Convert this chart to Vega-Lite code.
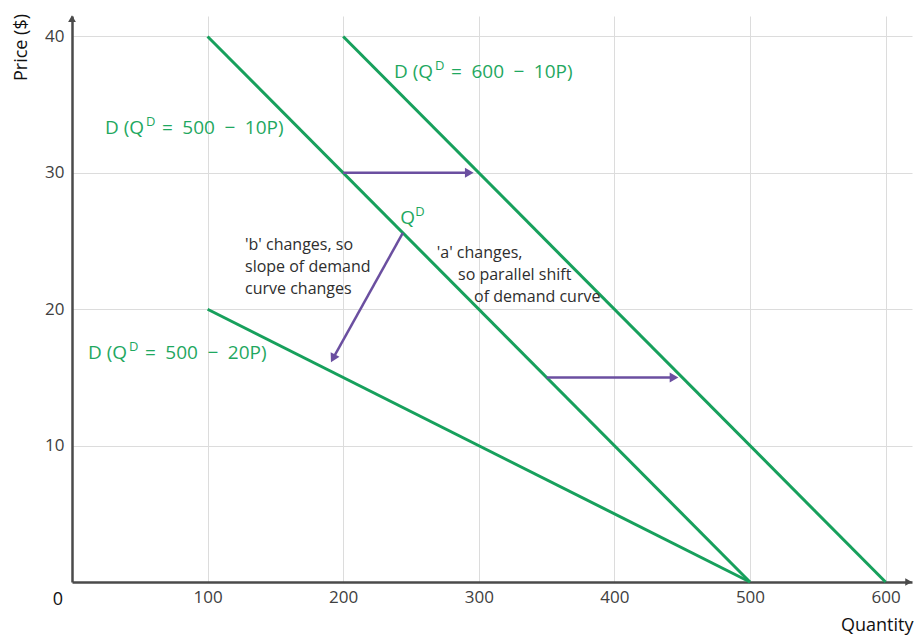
{
  "$schema": "https://vega.github.io/schema/vega-lite/v6.json",
  "width": 840,
  "height": 566,
  "autosize": {"type": "none"},
  "padding": {"left": 72, "top": 16, "right": 3, "bottom": 53},
  "background": "white",
  "config": {
    "view": {"stroke": null},
    "font": "Open Sans",
    "text": {"font": "Open Sans"}
  },
  "datasets": {
    "curves": [
      {"curve": "D1", "q": 100, "p": 40},
      {"curve": "D1", "q": 500, "p": 0},
      {"curve": "D2", "q": 200, "p": 40},
      {"curve": "D2", "q": 600, "p": 0},
      {"curve": "D3", "q": 100, "p": 20},
      {"curve": "D3", "q": 500, "p": 0}
    ],
    "arrows": [
      {"id": "a1", "q": 200, "p": 30},
      {"id": "a1", "q": 294, "p": 30},
      {"id": "a2", "q": 350, "p": 15},
      {"id": "a2", "q": 445, "p": 15},
      {"id": "b", "q": 244, "p": 25.6},
      {"id": "b", "q": 192, "p": 16.3}
    ],
    "heads": [
      {"q": 293, "p": 30, "angle": 90},
      {"q": 444, "p": 15, "angle": 90},
      {"q": 192.5, "p": 16.4, "angle": 208}
    ],
    "greenLabels": [
      {"q": 24.3, "p": 33.3, "pre": "D (Q", "sup": "D", "rest": "=\u2002500\u2002−\u200210P)"},
      {"q": 237.5, "p": 37.4, "pre": "D (Q", "sup": "D", "rest": "=\u2002600\u2002−\u200210P)"},
      {"q": 11.8, "p": 16.8, "pre": "D (Q", "sup": "D", "rest": "=\u2002500\u2002−\u200220P)"}
    ],
    "qd": [
      {"q": 242, "p": 26.7, "pre": "Q", "sup": "D"}
    ],
    "notes": [
      {"q": 127.6, "p": 24.7, "label": "'b' changes, so"},
      {"q": 127.6, "p": 23.1, "label": "slope of demand"},
      {"q": 127.6, "p": 21.5, "label": "curve changes"},
      {"q": 269, "p": 24.1, "label": "'a' changes,"},
      {"q": 284.7, "p": 22.5, "label": "so parallel shift"},
      {"q": 296.5, "p": 20.9, "label": "of demand curve"}
    ],
    "axisHeads": [
      {"q": 617, "p": 0, "angle": 90},
      {"q": 0, "p": 41.3, "angle": 0}
    ],
    "origin": [{"q": 0, "p": 0, "label": "0"}]
  },
  "layer": [
    {
      "data": {"name": "curves"},
      "mark": {"type": "line", "color": "#17a05c", "strokeWidth": 3},
      "encoding": {
        "x": {
          "field": "q", "type": "quantitative",
          "scale": {"domain": [0, 619.5], "nice": false, "zero": true},
          "axis": {
            "values": [100, 200, 300, 400, 500, 600],
            "gridValues": [50, 100, 150, 200, 250, 300, 350, 400, 450, 500, 550, 600],
            "grid": true, "gridColor": "#dcdcdc", "gridWidth": 1,
            "ticks": false,
            "domainColor": "#4a4a4a", "domainWidth": 2.5,
            "labelFont": "Open Sans", "labelFontSize": 17, "labelColor": "#404040", "labelPadding": 7,
            "title": "Quantity", "titleFont": "Open Sans", "titleFontSize": 18, "titleFontWeight": "normal",
            "titleColor": "#111111", "titleAnchor": "end", "titleAlign": "right",
            "titleX": 841, "titleY": 48, "titleBaseline": "alphabetic"
          }
        },
        "y": {
          "field": "p", "type": "quantitative",
          "scale": {"domain": [0, 41.5], "nice": false, "zero": true},
          "axis": {
            "values": [10, 20, 30, 40],
            "gridValues": [5, 10, 15, 20, 25, 30, 35, 40],
            "grid": true, "gridColor": "#dcdcdc", "gridWidth": 1,
            "ticks": false,
            "domainColor": "#4a4a4a", "domainWidth": 2.5,
            "labelFont": "Open Sans", "labelFontSize": 17, "labelColor": "#404040", "labelPadding": 8,
            "title": "Price ($)", "titleFont": "Open Sans", "titleFontSize": 18, "titleFontWeight": "normal",
            "titleColor": "#111111", "titleAngle": -90, "titleX": -51, "titleY": 31,
            "titleAlign": "center", "titleBaseline": "middle"
          }
        },
        "detail": {"field": "curve"}
      }
    },
    {
      "data": {"name": "arrows"},
      "mark": {"type": "line", "color": "#6b4fa0", "strokeWidth": 2.5},
      "encoding": {
        "x": {"field": "q", "type": "quantitative"},
        "y": {"field": "p", "type": "quantitative"},
        "detail": {"field": "id"}
      }
    },
    {
      "data": {"name": "heads"},
      "mark": {"type": "point", "shape": "triangle-up", "filled": true, "color": "#6b4fa0", "size": 100, "opacity": 1},
      "encoding": {
        "x": {"field": "q", "type": "quantitative"},
        "y": {"field": "p", "type": "quantitative"},
        "angle": {"field": "angle", "type": "quantitative", "scale": null}
      }
    },
    {
      "data": {"name": "axisHeads"},
      "mark": {"type": "point", "shape": "triangle-up", "filled": true, "color": "#4a4a4a", "size": 60, "opacity": 1},
      "encoding": {
        "x": {"field": "q", "type": "quantitative"},
        "y": {"field": "p", "type": "quantitative"},
        "angle": {"field": "angle", "type": "quantitative", "scale": null}
      }
    },
    {
      "data": {"name": "greenLabels"},
      "mark": {"type": "text", "align": "left", "baseline": "middle", "fontSize": 19, "color": "#1fa85f", "font": "Open Sans"},
      "encoding": {
        "x": {"field": "q", "type": "quantitative"},
        "y": {"field": "p", "type": "quantitative"},
        "text": {"field": "pre"}
      }
    },
    {
      "data": {"name": "greenLabels"},
      "mark": {"type": "text", "align": "left", "baseline": "middle", "fontSize": 13, "color": "#1fa85f", "font": "Open Sans", "dx": 41, "dy": -6},
      "encoding": {
        "x": {"field": "q", "type": "quantitative"},
        "y": {"field": "p", "type": "quantitative"},
        "text": {"field": "sup"}
      }
    },
    {
      "data": {"name": "greenLabels"},
      "mark": {"type": "text", "align": "left", "baseline": "middle", "fontSize": 19, "color": "#1fa85f", "font": "Open Sans", "dx": 57},
      "encoding": {
        "x": {"field": "q", "type": "quantitative"},
        "y": {"field": "p", "type": "quantitative"},
        "text": {"field": "rest"}
      }
    },
    {
      "data": {"name": "qd"},
      "mark": {"type": "text", "align": "left", "baseline": "middle", "fontSize": 19, "color": "#1fa85f", "font": "Open Sans"},
      "encoding": {
        "x": {"field": "q", "type": "quantitative"},
        "y": {"field": "p", "type": "quantitative"},
        "text": {"field": "pre"}
      }
    },
    {
      "data": {"name": "qd"},
      "mark": {"type": "text", "align": "left", "baseline": "middle", "fontSize": 13, "color": "#1fa85f", "font": "Open Sans", "dx": 15, "dy": -6},
      "encoding": {
        "x": {"field": "q", "type": "quantitative"},
        "y": {"field": "p", "type": "quantitative"},
        "text": {"field": "sup"}
      }
    },
    {
      "data": {"name": "notes"},
      "mark": {"type": "text", "align": "left", "baseline": "middle", "fontSize": 16, "color": "#2e2e2e", "font": "Open Sans"},
      "encoding": {
        "x": {"field": "q", "type": "quantitative"},
        "y": {"field": "p", "type": "quantitative"},
        "text": {"field": "label"}
      }
    },
    {
      "data": {"name": "origin"},
      "mark": {"type": "text", "align": "center", "baseline": "middle", "fontSize": 18, "color": "#111111", "dx": -14, "dy": 18, "font": "Open Sans"},
      "encoding": {
        "x": {"field": "q", "type": "quantitative"},
        "y": {"field": "p", "type": "quantitative"},
        "text": {"field": "label"}
      }
    }
  ]
}
